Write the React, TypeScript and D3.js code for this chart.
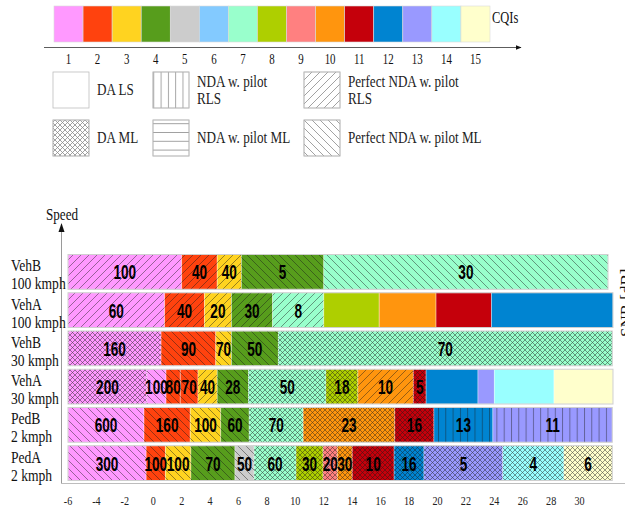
import React from "react";
import * as d3 from "d3";

// ---- data ----
const cqiColors = ["#FF99FF", "#FF420E", "#FFD320", "#579D1C", "#CCCCCC", "#83CAFF", "#99FFCC", "#AECF00", "#FF8080", "#FF950E", "#C5000B", "#0084D1", "#9999FF", "#99FFFF", "#FFFFCC"];
const cqiNames = ["1", "2", "3", "4", "5", "6", "7", "8", "9", "10", "11", "12", "13", "14", "15"];
const xTicks = [-6, -4, -2, 0, 2, 4, 6, 8, 10, 12, 14, 16, 18, 20, 22, 24, 26, 28, 30];
const snrStart = -6;

const rowChannels = ["VehB", "VehA", "VehB", "VehA", "PedB", "PedA"];
const rowSpeeds = ["100 kmph", "100 kmph", "30 kmph", "30 kmph", "2 kmph", "2 kmph"];

// right edge (SNR dB) of each segment, per row
const segEnds = [
  [2, 4.5, 6.2, 12, 32],
  [0.8, 3.6, 5.5, 8.4, 12, 15.9, 19.9, 23.8, 32.35],
  [0.55, 4.4, 5.5, 8.8, 32.3],
  [-0.45, 0.9, 1.9, 3.15, 4.5, 6.7, 12.15, 14.4, 18.3, 19.2, 22.85, 24, 28.2, 32.35],
  [-0.65, 2.6, 4.75, 6.75, 10.55, 17, 19.75, 23.9, 32.3],
  [-0.5, 0.85, 2.65, 5.75, 7.1, 10.05, 11.95, 12.95, 14, 16.95, 19.05, 24.6, 28.9, 32.3],
];
const segCqi = [
  [1, 2, 3, 4, 7],
  [1, 2, 3, 4, 7, 8, 10, 11, 12],
  [1, 2, 3, 4, 7],
  [1, 1, 2, 2, 3, 4, 7, 8, 10, 11, 12, 13, 14, 15],
  [1, 2, 3, 4, 7, 10, 11, 12, 13],
  [1, 2, 3, 4, 5, 7, 8, 9, 10, 11, 12, 13, 14, 15],
];
const segLabels = [
  ["100", "40", "40", "5", "30"],
  ["60", "40", "20", "30", "8", "", "", "", ""],
  ["160", "90", "70", "50", "70"],
  ["200", "100", "80", "70", "40", "28", "50", "18", "10", "5", "", "", "", ""],
  ["600", "160", "100", "60", "70", "23", "16", "13", "11"],
  ["300", "100", "100", "70", "50", "60", "30", "20", "30", "10", "16", "5", "4", "6"],
];
// dals = DA LS, daml = DA ML, ndarls = NDA w. pilot RLS, ndaml = NDA w. pilot ML,
// prls = Perfect NDA w. pilot RLS, pml = Perfect NDA w. pilot ML
const segPatterns = [
  ["prls", "prls", "prls", "pml", "pml"],
  ["prls", "prls", "prls", "prls", "prls", "dals", "dals", "dals", "dals"],
  ["daml", "pml", "pml", "pml", "daml"],
  ["daml", "pml", "pml", "pml", "prls", "pml", "daml", "daml", "prls", "daml", "dals", "dals", "dals", "dals"],
  ["pml", "pml", "pml", "pml", "daml", "daml", "daml", "ndarls", "ndarls"],
  ["pml", "pml", "pml", "pml", "pml", "daml", "daml", "daml", "daml", "daml", "daml", "daml", "daml", "daml"],
];

const legendKeys = ["dals", "ndarls", "prls", "daml", "ndaml", "pml"];
const legendTexts = [["DA LS"], ["NDA w. pilot", "RLS"], ["Perfect NDA w. pilot", "RLS"], ["DA ML"], ["NDA w. pilot ML"], ["Perfect NDA w. pilot ML"]];

// ---- layout ----
const W = 625;
const H = 508;
const legendCols = [53, 153, 304];
const legendRows = [72, 120];
const serif = "'Liberation Serif', 'Times New Roman', serif";
const sans = "'Liberation Sans', Arial, sans-serif";

function sx(xp: number, k: number) {
  return `translate(${xp},0) scale(${k},1) translate(${-xp},0)`;
}

function Patterns({ prefix, color, width }: { prefix: string; color: string; width: number }) {
  const common = { stroke: color, strokeWidth: width, fill: "none" };
  return (
    <>
      <pattern id={`${prefix}-prls`} patternUnits="userSpaceOnUse" width={8} height={8}>
        <path d="M0,8 L8,0 M-2,2 L2,-2 M6,10 L10,6" {...common} />
      </pattern>
      <pattern id={`${prefix}-pml`} patternUnits="userSpaceOnUse" width={8} height={8}>
        <path d="M0,0 L8,8 M-2,6 L2,10 M6,-2 L10,2" {...common} />
      </pattern>
      <pattern id={`${prefix}-daml`} patternUnits="userSpaceOnUse" width={5} height={5}>
        <path d="M0,5 L5,0 M-1,1 L1,-1 M4,6 L6,4 M0,0 L5,5 M-1,4 L1,6 M4,-1 L6,1" {...common} />
      </pattern>
      <pattern id={`${prefix}-ndarls`} patternUnits="userSpaceOnUse" width={7.3} height={10}>
        <path d="M0.5,0 L0.5,10" {...common} />
      </pattern>
      <pattern id={`${prefix}-ndaml`} patternUnits="userSpaceOnUse" width={10} height={8.8}>
        <path d="M0,0.5 L10,0.5" {...common} />
      </pattern>
    </>
  );
}

export default function App() {
  const x = d3.scaleLinear().domain([snrStart, 32]).range([68, 608]);
  const y = d3.scaleBand<number>().domain(d3.range(rowChannels.length)).range([254.5, 480.5]).paddingInner(0.09);
  const xb = d3.scaleBand<string>().domain(cqiNames).range([54, 490]);
  const bw = y.bandwidth();

  return (
    <svg width={W} height={H} style={{ position: "absolute", left: 0, top: 0, background: "#fff" }}>
      <defs>
        <Patterns prefix="c" color="#1a1a1a" width={0.6} />
        <Patterns prefix="l" color="#8a8a8a" width={0.8} />
        <marker id="arr" viewBox="0 0 10 10" refX="9" refY="5" markerWidth="7" markerHeight="7" orient="auto">
          <path d="M0,1 L10,5 L0,9 z" fill="#111" />
        </marker>
      </defs>

      {/* CQI colour bar */}
      {cqiNames.map((c, i) => (
        <rect key={c} x={xb(c)} y={6} width={xb.bandwidth()} height={36} fill={cqiColors[i]} stroke="#d9d9d9" strokeWidth={0.6} />
      ))}
      <line x1={44} x2={521} y1={47.5} y2={47.5} stroke="#333" strokeWidth={0.8} markerEnd="url(#arr)" />
      {cqiNames.map((c) => {
        const cx = (xb(c) as number) + xb.bandwidth() / 2;
        return (
          <text key={c} x={cx} y={64} textAnchor="middle" fontFamily={serif} fontSize={14} fill="#111" transform={sx(cx, 0.78)}>
            {c}
          </text>
        );
      })}
      <text x={492} y={23} fontFamily={serif} fontSize={16} fill="#111" transform={sx(492, 0.78)}>CQIs</text>

      {/* pattern legend */}
      {legendKeys.map((k, i) => {
        const lx = legendCols[i % 3];
        const ly = legendRows[Math.floor(i / 3)];
        const lines = legendTexts[i];
        const tx = lx + 44;
        return (
          <g key={k}>
            <rect x={lx} y={ly} width={36} height={36} fill="#fff" stroke="#bdbdbd" strokeWidth={0.8} />
            {k !== "dals" && <rect x={lx} y={ly} width={36} height={36} fill={`url(#l-${k})`} stroke="#bdbdbd" strokeWidth={0.8} />}
            {lines.map((t, j) => (
              <text key={j} x={tx} y={lines.length === 1 ? ly + 23 : ly + 15 + j * 17} fontFamily={serif} fontSize={16} fill="#222" transform={sx(tx, 0.82)}>
                {t}
              </text>
            ))}
          </g>
        );
      })}

      {/* axes */}
      <line x1={61.5} x2={61.5} y1={483.5} y2={224} stroke="#9a9a9a" strokeWidth={1} />
      <path d="M58.5,232 L61.5,223 L64.5,232 z" fill="#111" />
      <line x1={61} x2={625} y1={483.5} y2={483.5} stroke="#bdbdbd" strokeWidth={1.2} />
      <text x={46} y={220} fontFamily={serif} fontSize={16} fill="#111" transform={sx(46, 0.82)}>Speed</text>
      {xTicks.map((t) => (
        <text key={t} x={x(t)} y={505} textAnchor="middle" fontFamily={serif} fontSize={13} fill="#222" transform={sx(x(t), 0.78)}>
          {t}
        </text>
      ))}
      <text transform="translate(632,337) rotate(-90)" fontFamily={serif} fontSize={17} fill="#111">SNR [dB]</text>

      {/* rows */}
      {rowChannels.map((name, r) => {
        const y0 = y(r) as number;
        const ends = segEnds[r];
        return (
          <g key={r}>
            {ends.map((e, s) => {
              const start = s === 0 ? snrStart : ends[s - 1];
              const x0 = x(start);
              const x1 = x(e);
              const pat = segPatterns[r][s];
              return (
                <g key={s}>
                  <rect x={x0} y={y0} width={x1 - x0} height={bw} fill={cqiColors[segCqi[r][s] - 1]} stroke="#ffffff" strokeOpacity={0.45} strokeWidth={0.8} />
                  {pat !== "dals" && <rect x={x0} y={y0} width={x1 - x0} height={bw} fill={`url(#c-${pat})`} opacity={0.75} />}
                </g>
              );
            })}
            <rect x={x(snrStart)} y={y0} width={x(ends[ends.length - 1]) - x(snrStart)} height={bw} fill="none" stroke="#cfcfcf" strokeWidth={1} />
            {ends.map((e, s) => {
              const label = segLabels[r][s];
              if (!label) return null;
              const start = s === 0 ? snrStart : ends[s - 1];
              const cx = (x(start) + x(e)) / 2;
              const cy = y0 + bw / 2 + 1;
              return (
                <text key={`t${s}`} transform={`translate(${cx},${cy}) scale(0.68,1)`} textAnchor="middle" dominantBaseline="central"
                  fontFamily={sans} fontWeight="bold" fontSize={20} fill="#000">
                  {label}
                </text>
              );
            })}
            <text x={11} y={y0 + 17} fontFamily={serif} fontSize={17} fill="#111" transform={sx(11, 0.8)}>{name}</text>
            <text x={11} y={y0 + 35} fontFamily={serif} fontSize={17} fill="#111" transform={sx(11, 0.8)}>{rowSpeeds[r]}</text>
          </g>
        );
      })}
    </svg>
  );
}
